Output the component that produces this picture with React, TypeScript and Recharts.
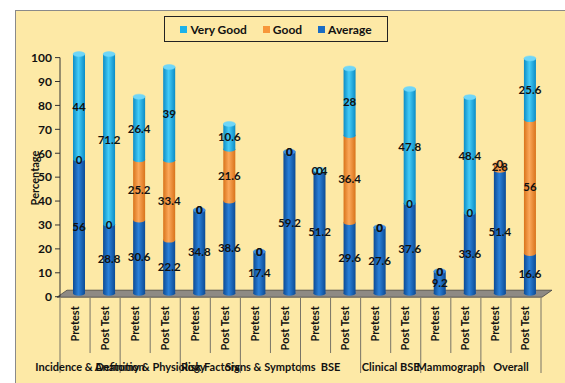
import React from "react";
import { BarChart, Bar, XAxis, YAxis, LabelList, Label } from "recharts";

const groups = [
  "Incidence & Definition",
  "Anatomy & Physiology",
  "Risk Factors",
  "Signs & Symptoms",
  "BSE",
  "Clinical BSE",
  "Mammograph",
  "Overall",
];
const tests = ["Pretest", "Post Test"];

const average = [56, 28.8, 30.6, 22.2, 34.8, 38.6, 17.4, 59.2, 51.2, 29.6, 27.6, 37.6, 9.2, 33.6, 51.4, 16.6];
const good = [0, 0, 25.2, 33.4, 0, 21.6, 0, 0, 0, 36.4, 0, 0, 0, 0, 2.8, 56];
const veryGood = [44, 71.2, 26.4, 39, 0, 10.6, 0, 0, 0.4, 28, 0, 47.8, 0, 48.4, 0, 25.6];

const yTicks = [0, 10, 20, 30, 40, 50, 60, 70, 80, 90, 100];

const rows = groups.flatMap((group, gi) =>
  tests.map((test, ti) => {
    const i = gi * 2 + ti;
    return { id: i, group, test, average: average[i], good: good[i], veryGood: veryGood[i] };
  })
);

// stacking order bottom -> top
const series = [
  { key: "average", name: "Average", grad: "gAvg", cap: "#3d8ee0", swatch: "#1a6cc4" },
  { key: "good", name: "Good", grad: "gGood", cap: "#fbb466", swatch: "#f7963a" },
  { key: "veryGood", name: "Very Good", grad: "gVg", cap: "#6fd6f8", swatch: "#1cb2ea" },
];

const FONT = "Lato, 'Open Sans', sans-serif";
const W = 549;
const H = 372;
const PLOT_L = 44;
const PLOT_R = 525;
const BAND = (PLOT_R - PLOT_L) / rows.length;
// the bars sit a little back on the floor
const DX = 4;
const DY = -3.5;

const topKey = (p: any) => {
  let k = "average";
  for (const s of series) if (p[s.key] > 0) k = s.key;
  return k;
};

// grey 3-D floor under the columns, drawn with the very first column so it stays underneath
const floor = (left: number, right: number, y0: number) => {
  const pts = [
    [left - 3, y0 + 0.5],
    [left + 7, y0 - 6.5],
    [right + 11, y0 - 6.5],
    [right + 1, y0 + 0.5],
  ]
    .map((p) => p.join(","))
    .join(" ");
  return <polygon points={pts} fill="#8e8a84" stroke="#444" strokeWidth={0.8} />;
};

const cylinder = (key: string, grad: string, cap: string) => (props: any) => {
  const { x, y, width, height, payload, index } = props;
  const base =
    key === "average" && index === 0
      ? floor(x - (BAND - width) / 2, x - (BAND - width) / 2 + BAND * rows.length, y + height)
      : null;
  if (!height || height <= 0) return <g>{base}</g>;
  const bx = x + DX;
  const by = y + DY;
  const rx = width / 2;
  const ry = 2.5;
  return (
    <g>
      {base}
      <rect x={bx} y={by} width={width} height={height} fill={`url(#${grad})`} />
      <ellipse cx={bx + rx} cy={by + height} rx={rx} ry={ry} fill={`url(#${grad})`} />
      {topKey(payload) === key && (
        <ellipse cx={bx + rx} cy={by} rx={rx} ry={ry} fill={cap} stroke={cap} strokeWidth={0.5} />
      )}
    </g>
  );
};

const valueLabel = (props: any) => {
  const vb = props.viewBox && props.viewBox.width !== undefined ? props.viewBox : props;
  const { x, y, width, height } = vb;
  return (
    <text
      x={x + width / 2 + DX}
      y={y + height / 2 + DY}
      textAnchor="middle"
      dominantBaseline="central"
      fontFamily={FONT}
      fontWeight={700}
      fontSize={11.5}
      fill="#111"
    >
      {props.value}
    </text>
  );
};

const XTick = (props: any) => {
  const { x, y, payload } = props;
  const i = payload.index;
  const row = rows[i];
  const left = x - BAND / 2;
  const lineTop = y + 1.3;
  const fullBottom = 362;
  const shortBottom = 342;
  return (
    <g>
      <line x1={left} y1={lineTop} x2={left} y2={i % 2 === 0 ? fullBottom : shortBottom} stroke="#555" strokeWidth={0.8} />
      {i === rows.length - 1 && (
        <line x1={x + BAND / 2} y1={lineTop} x2={x + BAND / 2} y2={fullBottom} stroke="#555" strokeWidth={0.8} />
      )}
      <text
        transform={`translate(${x - 1},${y + 9.5}) rotate(-90)`}
        textAnchor="end"
        dominantBaseline="central"
        fontFamily={FONT}
        fontWeight={700}
        fontSize={11}
        fill="#111"
      >
        {row.test}
      </text>
      {i % 2 === 0 && (
        <text x={x + BAND / 2} y={360} textAnchor="middle" fontFamily={FONT} fontWeight={700} fontSize={11} fill="#111">
          {row.group}
        </text>
      )}
    </g>
  );
};

const gradStops = (edge: string, mid: string) => (
  <>
    <stop offset="0%" stopColor={edge} />
    <stop offset="45%" stopColor={mid} />
    <stop offset="100%" stopColor={edge} />
  </>
);

export default function App() {
  return (
    <div style={{ position: "absolute", left: 0, top: 0, width: 565, height: 383, background: "#fff", overflow: "hidden" }}>
      <div
        style={{
          position: "absolute",
          left: 15,
          top: 10,
          width: 560,
          height: 380,
          background: "#fde9a6",
          border: "1px solid #8a8a8a",
        }}
      >
        <BarChart
          width={W}
          height={H}
          data={rows}
          margin={{ top: 46.6, right: W - PLOT_R, bottom: 0, left: 0 }}
          barSize={12}
        >
          <defs>
            <linearGradient id="gAvg" x1="0" y1="0" x2="1" y2="0">
              {gradStops("#0c4b95", "#2a80d8")}
            </linearGradient>
            <linearGradient id="gGood" x1="0" y1="0" x2="1" y2="0">
              {gradStops("#d9731a", "#fba85a")}
            </linearGradient>
            <linearGradient id="gVg" x1="0" y1="0" x2="1" y2="0">
              {gradStops("#0b8cc6", "#45cbf6")}
            </linearGradient>
          </defs>
          <XAxis
            dataKey="id"
            height={H - 285.7}
            interval={0}
            axisLine={false}
            tickLine={false}
            tickSize={0}
            tickMargin={0}
            tick={<XTick />}
          />
          <YAxis
            width={PLOT_L}
            domain={[0, 100]}
            ticks={yTicks}
            interval={0}
            tickSize={5}
            tickMargin={3}
            axisLine={{ stroke: "#333" }}
            tickLine={{ stroke: "#333" }}
            tick={{ fontFamily: FONT, fontWeight: 700, fontSize: 12, fill: "#111" }}
          >
            <Label
              content={() => (
                <text
                  transform="translate(18,167) rotate(-90)"
                  textAnchor="middle"
                  dominantBaseline="central"
                  fontFamily={FONT}
                  fontWeight={700}
                  fontSize={11}
                  fill="#111"
                >
                  Percentage
                </text>
              )}
            />
          </YAxis>
          {series.map((s) => (
            <Bar
              key={s.key}
              dataKey={s.key}
              name={s.name}
              stackId="a"
              fill={s.swatch}
              isAnimationActive={false}
              shape={cylinder(s.key, s.grad, s.cap)}
            >
              <LabelList dataKey={s.key} content={valueLabel} />
            </Bar>
          ))}
        </BarChart>
        <div
          style={{
            position: "absolute",
            left: 148,
            top: 5,
            width: 222,
            height: 24,
            border: "1.5px solid #222",
            display: "flex",
            alignItems: "center",
            justifyContent: "center",
            gap: 16,
            fontFamily: FONT,
            fontWeight: 700,
            fontSize: 12,
            color: "#111",
          }}
        >
          {[...series].reverse().map((s) => (
            <div key={s.key} style={{ display: "flex", alignItems: "center", gap: 3 }}>
              <span style={{ width: 7, height: 7, background: s.swatch, display: "inline-block" }} />
              <span>{s.name}</span>
            </div>
          ))}
        </div>
      </div>
    </div>
  );
}
